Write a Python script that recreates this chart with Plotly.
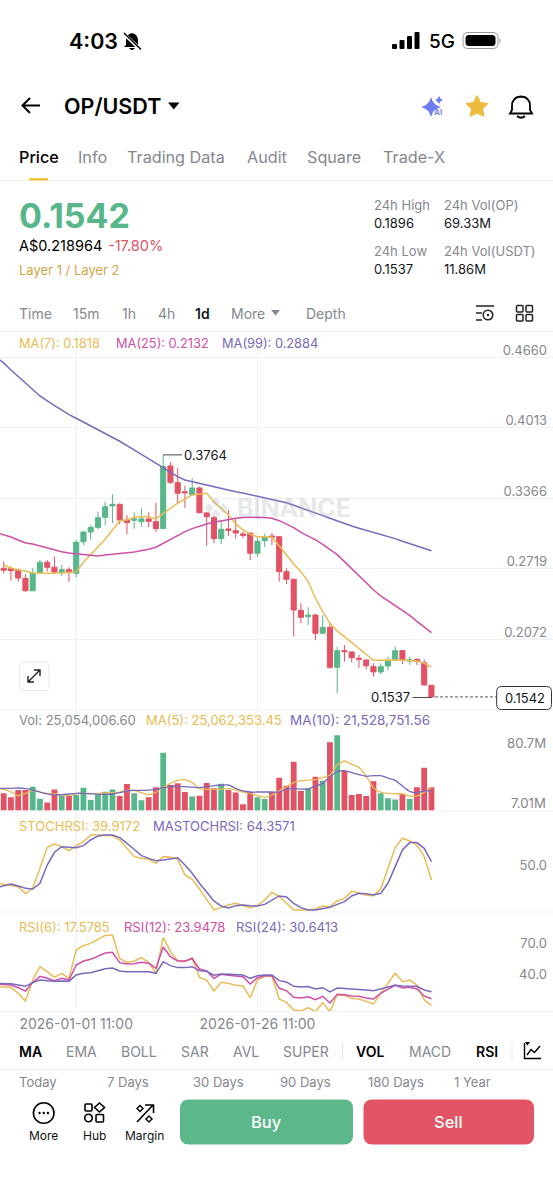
#!/usr/bin/env python3

import pandas as pd
import plotly.graph_objects as go

W = 553
H = 1200
FONT = "Inter"

GREEN = "#58B78A"
RED = "#E35264"
YELLOW = "#E9BC55"
MAGENTA = "#CF4FA6"
PURPLE = "#7A68BC"
GRAY = "#85888E"
DARK = "#14171A"
LINE = "#F0F1F3"

# Daily candles, values
first_day = "2025-12-22 11:00"
opens = [.2723, .2719, .2704, .2631, .2517, .2683, .2778, .2732, .2683, .2710,
         .2677, .2967, .3056, .3099, .3191, .3295, .3310, .3166, .3164, .3151,
         .3176, .3151, .3087, .3662, .3509, .3426, .3399, .3460, .3231, .3188,
         .2995, .3084, .3068, .3038, .3044, .2861, .2978, .3019, .3013, .2692,
         .2622, .2337, .2279, .2294, .2126, .2181, .1814, .1967, .1955, .1897,
         .1881, .1820, .1771, .1826, .1887, .1967, .1872, .1887, .1856, .1649]
highs = [.2784, .2738, .2719, .2671, .2723, .2799, .2799, .2830, .2753, .2732,
         .2983, .3062, .3120, .3242, .3334, .3402, .3320, .3212, .3237, .3274,
         .3237, .3325, .3764, .3699, .3641, .3478, .3549, .3472, .3237, .3203,
         .3166, .3258, .3182, .3059, .3056, .3020, .3042, .3047, .3019, .2723,
         .2627, .2402, .2365, .2303, .2292, .2218, .2003, .2019, .1957, .1927,
         .1887, .1851, .1851, .1911, .2003, .1973, .1911, .1896, .1887, .1652]
lows = [.2677, .2609, .2600, .2508, .2515, .2677, .2692, .2671, .2652, .2597,
        .2640, .2937, .2983, .3081, .3118, .3136, .3127, .3035, .3087, .3105,
        .3100, .3056, .3084, .3497, .3320, .3277, .3389, .3228, .2928, .2953,
        .2946, .3020, .2995, .2998, .2799, .2829, .2918, .2937, .2600, .2579,
        .2095, .2218, .2203, .2065, .2120, .1799, .1575, .1866, .1860, .1808,
        .1796, .1728, .1750, .1783, .1881, .1844, .1835, .1835, .1645, .1537]
closes = [.2705, .2701, .2634, .2517, .2677, .2778, .2732, .2689, .2710, .2683,
          .2962, .3056, .3099, .3187, .3288, .3310, .3166, .3142, .3176, .3176,
          .3154, .3087, .3656, .3512, .3411, .3417, .3460, .3233, .3197, .2995,
          .3081, .3072, .3047, .3026, .2861, .2971, .3006, .3010, .2692, .2622,
          .2340, .2273, .2292, .2126, .2181, .1814, .1967, .1957, .1902, .1887,
          .1829, .1771, .1820, .1881, .1967, .1887, .1881, .1872, .1652, .1542]

ma7 = [.2753, .2726, .2707, .2698, .2680, .2677, .2677, .2677, .2680, .2686,
       .2692, .2778, .2851, .2916, .2989, .3075, .3160, .3166, .3191, .3197,
       .3197, .3176, .3228, .3274, .3320, .3359, .3396, .3405, .3411, .3334,
       .3274, .3212, .3130, .3075, .3035, .3013, .3013, .3008, .2930, .2845,
       .2762, .2692, .2600, .2448, .2325, .2218, .2147, .2095, .2040, .1989,
       .1927, .1878, .1878, .1881, .1881, .1878, .1875, .1872, .1851, .1818]
# the slower lines start one day left of the screen
ma25 = [.3050, .3031, .3010, .2983, .2955, .2946, .2928, .2909, .2891, .2875, .2863,
        .2857, .2845, .2839, .2836, .2845, .2854, .2861, .2866, .2873, .2882,
        .2897, .2916, .2952, .2989, .3026, .3059, .3087, .3111, .3130, .3145,
        .3157, .3173, .3182, .3188, .3191, .3191, .3188, .3183, .3160, .3130,
        .3096, .3053, .3020, .2983, .2943, .2897, .2848, .2784, .2719, .2652,
        .2585, .2526, .2469, .2423, .2380, .2334, .2291, .2236, .2181, .2132]
ma99 = [.4658, .4608, .4543, .4482, .4421, .4360, .4305, .4259, .4216, .4173, .4133,
        .4100, .4066, .4032, .3995, .3959, .3926, .3889, .3848, .3809, .3770,
        .3729, .3690, .3647, .3604, .3564, .3534, .3518, .3503, .3485, .3469,
        .3454, .3439, .3426, .3414, .3399, .3387, .3371, .3353, .3344, .3325,
        .3301, .3279, .3255, .3231, .3206, .3182, .3157, .3132, .3111, .3090,
        .3072, .3053, .3035, .3017, .2995, .2971, .2949, .2925, .2900, .2884]

# Volume in millions
volume = [18.6, 14.3, 22.1, 22.1, 25.7, 12.8, 8.9, 22.8, 15.7, 15.7,
          16.8, 24.6, 11.4, 17.1, 20.3, 22.8, 15.7, 28.6, 18.6, 11.1,
          14.3, 25.0, 62.1, 27.5, 29.3, 20.0, 15.3, 16.1, 29.6, 23.9,
          28.9, 22.1, 19.6, 7.01, 20.0, 14.3, 12.5, 20.0, 35.3, 26.8,
          52.5, 21.0, 23.9, 36.4, 32.1, 73.2, 80.7, 42.5, 16.8, 17.9,
          15.7, 31.4, 18.6, 13.2, 12.1, 18.2, 12.5, 25.0, 46.0, 25.05]
vol_ma5 = [23.9, 22.8, 20.0, 16.1, 18.6, 21.4, 20.0, 18.6, 17.9, 17.1, 16.1,
           17.9, 18.6, 18.2, 18.6, 18.9, 19.3, 20.0, 21.8, 21.8, 19.3,
           17.1, 19.6, 25.0, 29.3, 32.5, 33.2, 30.0, 23.6, 22.8, 22.8,
           22.8, 23.9, 22.1, 20.0, 18.6, 16.1, 14.3, 16.8, 21.4, 25.7,
           30.0, 32.1, 32.8, 33.2, 35.3, 38.2, 48.9, 53.2, 49.6, 46.4,
           37.1, 24.6, 20.0, 18.6, 18.2, 17.9, 15.7, 15.7, 19.6, 25.06]
vol_ma10 = [23.9, 23.9, 23.9, 24.3, 23.6, 22.1, 20.0, 17.9, 16.8, 17.1, 17.9,
            18.6, 18.6, 18.2, 17.5, 17.5, 17.9, 19.3, 21.1, 21.8, 21.8,
            22.1, 22.8, 24.6, 26.1, 26.1, 25.7, 25.3, 24.6, 25.7, 26.8,
            27.5, 27.5, 23.9, 21.1, 20.0, 20.0, 20.0, 20.0, 20.0, 23.2,
            23.6, 23.2, 23.2, 26.4, 29.3, 36.4, 41.8, 42.8, 40.7, 38.6,
            36.8, 37.5, 37.5, 35.0, 32.5, 26.4, 20.7, 19.3, 21.1, 21.53]

stoch = [35.5, 34.1, 33.2, 31.0, 21.7, 28.8, 55.5, 83.5, 88.0, 84.4, 79.1,
         85.8, 91.1, 100, 100, 100, 99.1, 93.3, 82.2, 71.1, 68.8,
         67.5, 62.2, 71.1, 70.2, 67.5, 46.6, 40.8, 27.9, 14.6, 0,
         3.0, 6.5, 8.8, 5.7, 3.0, 5.7, 13.2, 23.5, 17.7, 8.8,
         0, 0, 0, 1.2, 5.2, 4.3, 11.9, 15.4, 24.8, 22.6,
         19.4, 19.0, 27.9, 55.5, 83.1, 95.6, 92.0, 86.6, 71.1, 39.92]
mastoch = [29.7, 32.4, 34.6, 31.9, 28.8, 27.9, 35.5, 59.9, 76.9, 84.4, 83.5,
           83.1, 85.8, 93.3, 98.7, 100, 100, 96.4, 88.9, 80.0, 72.4,
           68.8, 65.7, 66.6, 68.0, 69.7, 59.9, 48.8, 35.5, 23.5, 11.9,
           5.2, 2.5, 5.7, 6.5, 5.7, 5.2, 7.4, 13.2, 18.6, 17.2,
           8.8, 3.0, 0, 0, 2.1, 3.4, 7.4, 11.0, 18.6, 22.1,
           21.7, 19.9, 22.1, 35.5, 57.7, 80.0, 89.8, 89.8, 82.2, 64.36]

rsi6 = [35.5, 35.5, 34.8, 29.1, 21.8, 41.8, 54.5, 49.7, 44.3, 48.2, 43.4,
        70.4, 74.5, 76.7, 80.5, 84.3, 84.7, 62.4, 58.6, 59.9, 63.1,
        58.6, 48.2, 82.4, 68.8, 59.9, 59.3, 63.1, 44.3, 41.8, 31.3,
        39.6, 38.6, 36.7, 36.1, 25.0, 41.8, 45.6, 45.3, 23.7, 20.5,
        13.2, 12.3, 15.5, 11.7, 20.2, 11.7, 27.5, 27.2, 24.3, 23.7,
        21.2, 19.0, 29.1, 38.6, 48.2, 40.2, 41.8, 37.0, 22.8, 17.58]
rsi12 = [38.0, 37.7, 37.0, 34.5, 31.3, 39.3, 45.3, 43.4, 41.2, 43.4, 41.8,
         56.1, 59.9, 61.5, 64.7, 67.5, 68.2, 58.3, 57.0, 57.4, 58.6,
         57.7, 52.9, 73.2, 64.0, 59.9, 59.9, 62.1, 52.3, 50.4, 43.4,
         47.2, 46.3, 45.6, 45.0, 38.0, 44.0, 45.9, 45.9, 33.9, 31.7,
         25.3, 24.7, 25.9, 23.1, 26.3, 19.9, 28.2, 27.8, 26.6, 26.3,
         24.7, 23.7, 29.1, 33.2, 37.0, 34.2, 34.8, 33.2, 26.6, 23.95]
rsi24 = [38.6, 38.6, 38.3, 37.0, 35.8, 39.3, 41.8, 41.2, 40.5, 40.9, 40.5,
         46.6, 48.2, 48.8, 50.7, 52.6, 53.2, 50.4, 49.7, 49.7, 50.4,
         49.7, 48.2, 59.3, 55.5, 53.6, 53.6, 54.5, 50.7, 50.1, 46.3,
         47.5, 47.2, 46.9, 46.6, 43.4, 45.9, 46.6, 46.6, 41.2, 39.9,
         35.8, 35.1, 35.5, 33.2, 34.5, 30.4, 34.2, 33.9, 33.5, 33.2,
         32.3, 31.6, 33.2, 35.1, 36.7, 36.1, 36.1, 35.8, 32.3, 30.64]

price_ticks = [.4660, .4013, .3366, .2719, .2072]
date_ticks = ["2026-01-01 11:00", "2026-01-26 11:00"]

days = pd.date_range(first_day, periods=len(closes), freq="D")
line_days = pd.date_range(days[0] - pd.Timedelta(days=1), periods=len(closes) + 1, freq="D")
bar_colors = [GREEN if c >= o else RED for o, c in zip(opens, closes)]

# 7.25 px per day, first candle centered 3.7 px from the left edge
x_start = days[0] - pd.Timedelta(days=3.7 / 7.25)
x_end = x_start + pd.Timedelta(days=W / 7.25)


def dom(top, bottom):
    return [1 - bottom / H, 1 - top / H]


fig = go.Figure()

fig.add_trace(go.Candlestick(x=days, open=opens, high=highs, low=lows, close=closes,
                             increasing=dict(line=dict(color=GREEN, width=1), fillcolor=GREEN),
                             decreasing=dict(line=dict(color=RED, width=1), fillcolor=RED),
                             whiskerwidth=0, hoverinfo="skip", xaxis="x", yaxis="y"))
for xs, values, color in [(days, ma7, YELLOW), (line_days, ma25, MAGENTA), (line_days, ma99, PURPLE)]:
    fig.add_trace(go.Scatter(x=xs, y=values, mode="lines", line=dict(color=color, width=1.5),
                             hoverinfo="skip", xaxis="x", yaxis="y"))

fig.add_trace(go.Bar(x=days, y=volume, marker=dict(color=bar_colors, line_width=0),
                     hoverinfo="skip", xaxis="x2", yaxis="y2"))
for values, color in [(vol_ma5, YELLOW), (vol_ma10, PURPLE)]:
    fig.add_trace(go.Scatter(x=line_days, y=values, mode="lines",
                             line=dict(color=color, width=1.3, shape="spline", smoothing=0.6),
                             hoverinfo="skip", xaxis="x2", yaxis="y2"))

for values, color in [(stoch, YELLOW), (mastoch, PURPLE)]:
    fig.add_trace(go.Scatter(x=line_days, y=values, mode="lines", line=dict(color=color, width=1.5),
                             hoverinfo="skip", xaxis="x3", yaxis="y3"))

for values, color in [(rsi6, YELLOW), (rsi12, MAGENTA), (rsi24, PURPLE)]:
    fig.add_trace(go.Scatter(x=line_days, y=values, mode="lines", line=dict(color=color, width=1.5),
                             hoverinfo="skip", xaxis="x4", yaxis="y4"))

# invisible pixel canvas so the app chrome can be placed in screen coordinates
fig.add_trace(go.Scatter(x=[0, W], y=[0, H], mode="markers", marker=dict(opacity=0),
                         hoverinfo="skip", xaxis="x5", yaxis="y5"))

x_common = dict(type="date", range=[x_start, x_end], showgrid=True, gridcolor=LINE, gridwidth=1,
                tickmode="array", tickvals=date_ticks, zeroline=False, showline=False,
                ticks="", rangeslider=dict(visible=False), fixedrange=True)
y_common = dict(side="right", ticklabelposition="inside", ticks="", zeroline=False, showline=False,
                tickfont=dict(family=FONT, size=13, color=GRAY), fixedrange=True,
                ticklabelstandoff=3)

layout = dict(
    width=W, height=H, autosize=False, showlegend=False,
    margin=dict(l=0, r=0, t=0, b=0),
    paper_bgcolor="white", plot_bgcolor="rgba(0,0,0,0)",
    font=dict(family=FONT), boxgap=0.3, boxgroupgap=0, bargap=0.2,
    xaxis=dict(x_common, domain=[0, 1], anchor="y", showticklabels=False),
    xaxis2=dict(x_common, domain=[0, 1], anchor="y2", showticklabels=False),
    xaxis3=dict(x_common, domain=[0, 1], anchor="y3", showticklabels=False),
    xaxis4=dict(x_common, domain=[0, 1], anchor="y4", showticklabels=True, ticklabelstandoff=2,
                tickformat="%Y-%m-%d %H:%M", tickfont=dict(family=FONT, size=14, color=GRAY)),
    xaxis5=dict(domain=[0, 1], range=[0, W], visible=False, anchor="y5", fixedrange=True),
    yaxis=dict(y_common, domain=dom(332, 710), range=[.1422, .4892], anchor="x",
               tickmode="array", tickvals=price_ticks, tickformat=".4f",
               showgrid=True, gridcolor=LINE, ticklabelshift=-7),
    yaxis2=dict(y_common, domain=dom(710, 810.7), range=[0, 107.8], anchor="x2",
                showticklabels=False, showgrid=False),
    yaxis3=dict(y_common, domain=dom(811, 912), range=[-2.8, 132], anchor="x3",
                tickmode="array", tickvals=[50], tickformat=".1f", showgrid=False, ticklabelshift=-7),
    yaxis4=dict(y_common, domain=dom(912, 1011.7), range=[11.6, 106.6], anchor="x4",
                tickmode="array", tickvals=[70, 40], tickformat=".1f", showgrid=False, ticklabelshift=-7),
    yaxis5=dict(domain=[0, 1], range=[H, 0], visible=False, anchor="x5", fixedrange=True),
)

shapes = []
notes = []


def text(x, y, s, color=DARK, size=14, anchor="left", weight=400):
    # Inter's side bearing pushes left-anchored text about a pixel right
    if anchor == "left":
        x -= 1
    notes.append(dict(x=x, y=y, xref="x5", yref="y5", text=s, showarrow=False, xanchor=anchor,
                      yanchor="middle", align=anchor, borderpad=0,
                      font=dict(family=FONT, size=size, color=color, weight=weight)))


def path(d, fill="rgba(0,0,0,0)", color=None, width=0, layer="above"):
    shapes.append(dict(type="path", path=d, xref="x5", yref="y5", fillcolor=fill, layer=layer,
                       line=dict(color=color or "rgba(0,0,0,0)", width=width)))


def hline(y, x0=0, x1=W, color=LINE, width=1, layer="below"):
    shapes.append(dict(type="line", xref="x5", yref="y5", x0=x0, x1=x1, y0=y, y1=y, layer=layer,
                       line=dict(color=color, width=width)))


def box(x0, y0, x1, y1, r, fill="rgba(0,0,0,0)", color=None, width=0):
    d = (f"M{x0+r} {y0} L{x1-r} {y0} Q{x1} {y0} {x1} {y0+r} L{x1} {y1-r} Q{x1} {y1} {x1-r} {y1} "
         f"L{x0+r} {y1} Q{x0} {y1} {x0} {y1-r} L{x0} {y0+r} Q{x0} {y0} {x0+r} {y0} Z")
    path(d, fill, color, width)


def circle(cx, cy, r, fill="rgba(0,0,0,0)", color=None, width=0):
    shapes.append(dict(type="circle", xref="x5", yref="y5", x0=cx-r, x1=cx+r, y0=cy-r, y1=cy+r,
                       fillcolor=fill, layer="above",
                       line=dict(color=color or "rgba(0,0,0,0)", width=width)))


# Status bar
text(69, 41, "4:03", "#000000", 21.5, weight=600)
path("M132 33 Q126 34 126 41 L126 45 L124 47 L140 47 L138 45 L138 41 Q138 34 132 33 Z", "#000000")
path("M129 48 Q132 52 135 48 Z", "#000000")
path("M123 33 L141 50", color="white", width=3.4)
path("M124 33 L141 49.5", color="#000000", width=1.4)
for bx, bh in zip([392, 399.5, 407, 414.5], [5, 9, 13, 17]):
    box(bx, 49 - bh, bx + 5, 49, 1, "#000000")
text(429, 41.5, "5G", "#000000", 19, weight=500)
box(463, 32.5, 498, 48.5, 5, color="#9A9A9A", width=1)
box(465.5, 35, 495.5, 46, 3.5, "#000000")
path("M499.5 38 Q502 40.5 499.5 44 Z", "#9A9A9A")

# Header
path("M40 105.5 L22.5 105.5 M30 98 L22.5 105.5 L30 113", color="#000000", width=2)
text(64, 105.5, "OP/USDT", "#000000", 21.5, weight=600)
path("M168 102.5 L179.5 102.5 L173.8 109.5 Z", "#000000")
path("M431 97 Q433 105 441 107 Q433 109 431 117 Q429 109 421 107 Q429 105 431 97 Z", "#6F7CF0")
path("M439 96 Q440 99 443 100 Q440 101 439 104 Q438 101 435 100 Q438 99 439 96 Z", "#6F7CF0")
text(434, 112, "AI", "#7C8AF2", 8, weight=700)
path("M477 95.5 L480.5 102.5 L488 103.5 L482.5 109 L484 116.5 L477 113 L470 116.5 L471.5 109 L466 103.5 L473.5 102.5 Z",
     "#EDBB3D", "#EDBB3D", 1)
path("M521 96.5 Q530 97 530 106 L530 110 L532 113.5 L510 113.5 L512 110 L512 106 Q512 97 521 96.5 Z",
     color="#000000", width=1.8)
path("M517 116 Q521 119.5 525 116", color="#000000", width=1.8)

# Tabs
for tx, label in zip([19.4, 78, 127, 246.5, 307, 382.7],
                     ["Price", "Info", "Trading Data", "Audit", "Square", "Trade-X"]):
    text(tx, 157, label, "#000000" if label == "Price" else GRAY, 16.2, weight=500 if label == "Price" else 400)
path("M29 178 L48 178 L48 180.5 L29 180.5 Z", "#F0C63C")
hline(180.5)

# Quote block
text(19.4, 215, "0.1542", GREEN, 34, weight=700)
text(19.4, 245, "A$0.218964", "#000000", 14.5)
text(107.5, 245, "-17.80%", RED, 14.5)
text(19.4, 270, "Layer 1 / Layer 2", "#D3A548", 13)
for sx, sy, label, color in [(373.5, 205, "24h High", GRAY), (373.5, 222.7, "0.1896", DARK),
                             (373.5, 250.7, "24h Low", GRAY), (373.5, 268.7, "0.1537", DARK),
                             (444.4, 205, "24h Vol(OP)", GRAY), (444.4, 222.7, "69.33M", DARK),
                             (444.4, 250.7, "24h Vol(USDT)", GRAY), (444.4, 268.7, "11.86M", DARK)]:
    text(sx, sy, label, color, 13)

# Interval row
for tx, label in zip([19.4, 73.4, 122.4, 157.7, 195, 231.4, 305.8],
                     ["Time", "15m", "1h", "4h", "1d", "More", "Depth"]):
    text(tx, 313, label, DARK if label == "1d" else GRAY, 14, weight=600 if label == "1d" else 400)
path("M271 310 L280 310 L275.5 315.5 Z", GRAY)
path("M476 306 L494 306 M476 313 L482 313 M476 320 L482 320", color="#222222", width=1.6)
circle(488, 315, 4.8, color="#222222", width=1.5)
circle(488, 315, 1.2, "#222222")
for gx in [516.5, 526]:
    for gy in [305.5, 314.5]:
        box(gx, gy, gx + 6.5, gy + 6.5, 1, color="#222222", width=1.5)

# Panel borders
for py_ in [331.5, 710, 811, 912, 1011.7]:
    hline(py_)

# Panel legends
for tx, label, color in [(19, "MA(7): 0.1818", YELLOW), (116, "MA(25): 0.2132", MAGENTA), (222, "MA(99): 0.2884", PURPLE)]:
    text(tx, 343, label, color, 12.8)
for tx, label, color, size in [(19, "Vol: 25,054,006.60", GRAY, 13), (146, "MA(5): 25,062,353.45", YELLOW, 13),
                               (290, "MA(10): 21,528,751.56", PURPLE, 13.5)]:
    text(tx, 720, label, color, size)
for tx, label, color in [(19, "STOCHRSI: 39.9172", YELLOW), (153, "MASTOCHRSI: 64.3571", PURPLE)]:
    text(tx, 826, label, color, 13)
for tx, label, color in [(19, "RSI(6): 17.5785", YELLOW), (124, "RSI(12): 23.9478", MAGENTA), (236, "RSI(24): 30.6413", PURPLE)]:
    text(tx, 927, label, color, 13)

# Volume labels sit off their values in the app
text(546.5, 743, "80.7M", GRAY, 13.2, "right")
text(546.5, 802.7, "7.01M", GRAY, 13.2, "right")

# Watermark
path("M216 497 L221 502 L216 507 L211 502 Z M216 509 L221 514 L216 519 L211 514 Z M209 503 L214 508 L209 513 L204 508 Z M223 503 L228 508 L223 513 L218 508 Z",
     "rgba(170,175,180,0.28)", layer="below")
text(237, 508, "BINANCE", "rgba(170,175,180,0.30)", 25, weight=700)

# High and low markers
high_i = highs.index(max(highs))
low_i = lows.index(min(lows))
shapes.append(dict(type="line", xref="x", yref="y", layer="above", x0=days[high_i],
                   x1=days[high_i] + pd.Timedelta(days=2.6), y0=highs[high_i], y1=highs[high_i],
                   line=dict(color="#444444", width=1)))
notes.append(dict(x=days[high_i], y=highs[high_i], xref="x", yref="y", text=f"{highs[high_i]:.4f}",
                  showarrow=False, xanchor="left", yanchor="middle", xshift=19,
                  font=dict(family=FONT, size=13, color=DARK)))
shapes.append(dict(type="line", xref="x", yref="y", layer="above", x0=days[low_i],
                   x1=days[low_i] - pd.Timedelta(days=2.6), y0=lows[low_i], y1=lows[low_i],
                   line=dict(color="#444444", width=1)))
notes.append(dict(x=days[low_i], y=lows[low_i], xref="x", yref="y", text=f"{lows[low_i]:.4f}",
                  showarrow=False, xanchor="right", yanchor="middle", xshift=-19,
                  font=dict(family=FONT, size=13, color=DARK)))

# Last price tag
shapes.append(dict(type="line", xref="x5", yref="y", layer="above", x0=435, x1=497,
                   y0=closes[-1], y1=closes[-1], line=dict(color="#555555", width=1, dash="3px,2px")))
box(496.7, 686.5, 551.5, 709.5, 5, "white", "#333333", 1)
text(524.5, 698, f"{closes[-1]:.4f}", DARK, 13, "center")

# Expand button
box(19.5, 662, 49, 690.5, 4, "white", "#E8E9EB", 1)
path("M28 682 L40 670 M34 670 L40 670 L40 676 M28 676 L28 682 L34 682", color="#222222", width=1.4)

# Indicator row
for tx, label, on in [(19.4, "MA", True), (65.6, "EMA", False), (120.6, "BOLL", False), (180.6, "SAR", False),
                      (232.8, "AVL", False), (283, "SUPER", False), (355.6, "VOL", True),
                      (409, "MACD", False), (475.5, "RSI", True)]:
    text(tx, 1051, label, "#000000" if on else GRAY, 14, weight=600 if on else 400)
for sx in [342.5, 512]:
    shapes.append(dict(type="line", xref="x5", yref="y5", x0=sx, x1=sx, y0=1042, y1=1060, layer="above",
                       line=dict(color="#E6E7E9", width=1)))
path("M524.5 1043 L524.5 1058.5 L541 1058.5 M527 1055 L531 1049.5 L534.5 1052.5 L540 1046", color="#000000", width=1.4)
path("M525 1042 L530 1042 L527.5 1045.5 Z", "#000000")
hline(1069.5)
for tx, label in zip([19.4, 106.5, 193, 280, 367.5, 454],
                     ["Today", "7 Days", "30 Days", "90 Days", "180 Days", "1 Year"]):
    text(tx, 1081.5, label, GRAY, 13)

# Bottom bar
circle(43.7, 1113, 10.3, color="#000000", width=1.6)
for dx in [39.5, 43.7, 47.9]:
    circle(dx, 1113, 1.2, "#000000")
box(85, 1104, 92, 1111, 1, color="#000000", width=1.6)
path("M99.5 1103 L104.5 1107.5 L99.5 1112 L94.5 1107.5 Z", color="#000000", width=1.6)
circle(88.5, 1118, 3.8, color="#000000", width=1.6)
box(96, 1114.5, 103.5, 1122, 1, color="#000000", width=1.6)
path("M137 1122 L153 1105 M145 1105 L153.5 1105 L153.5 1113", color="#000000", width=1.6)
path("M140 1105.5 L143 1108.5 L140 1111.5 L137 1108.5 Z M149 1116 L152 1119 L149 1122 L146 1119 Z", color="#000000", width=1.4)
for tx, label in [(43.5, "More"), (94, "Hub"), (144.3, "Margin")]:
    text(tx, 1135.7, label, "#111111", 12, "center")
box(180, 1099.5, 353, 1144.5, 9, "#5CB88A")
box(363.5, 1099.5, 534, 1144.5, 9, "#E35464")
text(266.5, 1122, "Buy", "white", 16.5, "center", 500)
text(448.5, 1122, "Sell", "white", 16.5, "center", 500)

layout["shapes"] = shapes
layout["annotations"] = notes

fig.update_layout(**layout)
fig.write_html("out.html", config={"displayModeBar": False},
               post_script="document.body.style.margin='0';document.body.style.overflow='hidden';")
